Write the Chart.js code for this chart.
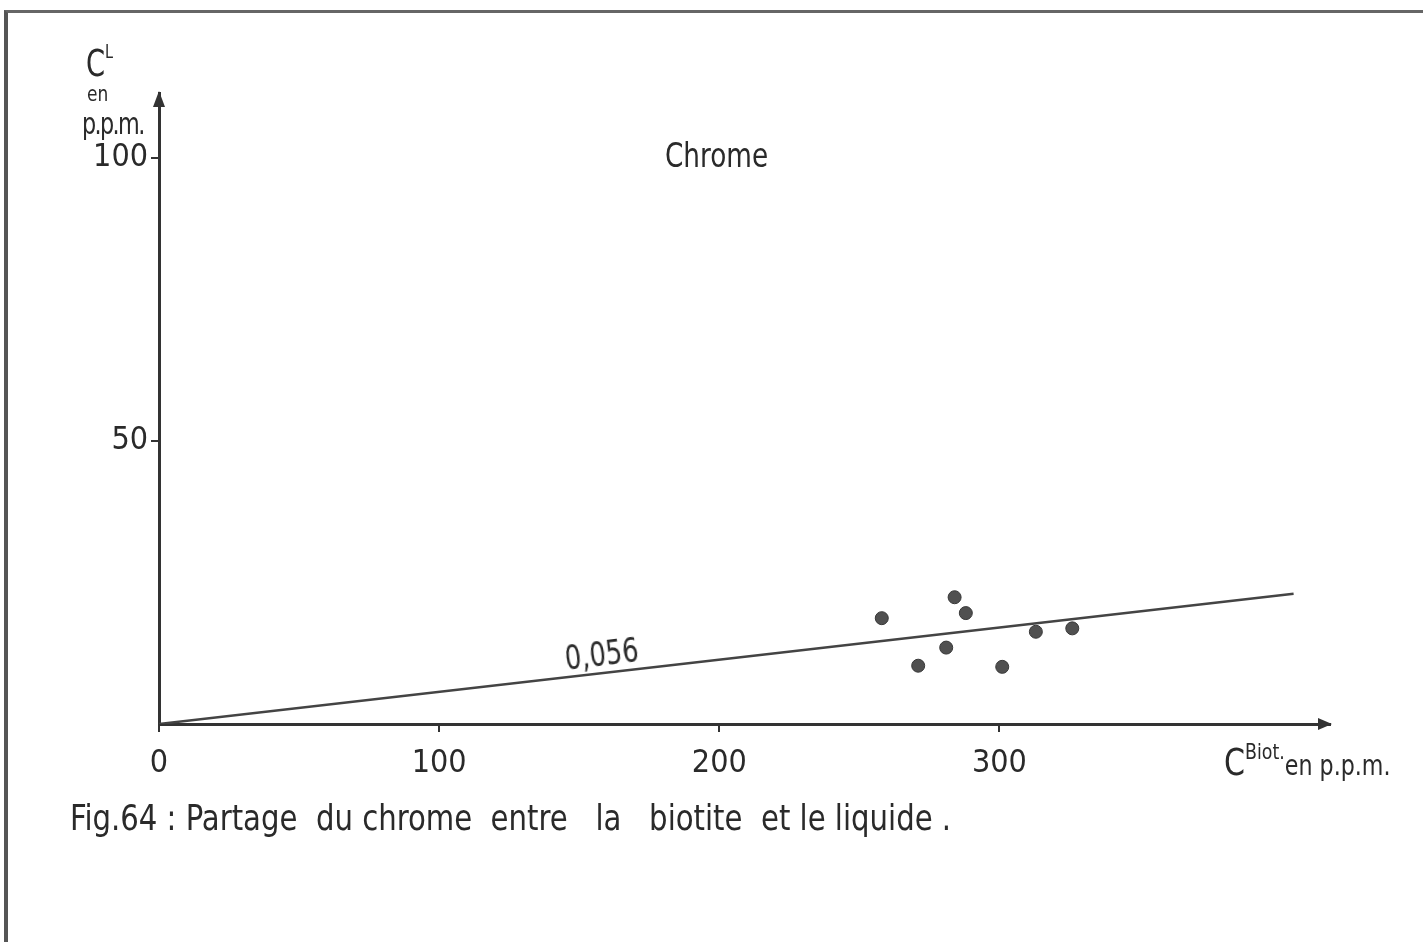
<!DOCTYPE html>
<html>
<head>
<meta charset="utf-8">
<script src="https://cdn.jsdelivr.net/npm/chart.js@4/dist/chart.umd.min.js"></script>
<style>
  body { margin: 0; background: #fff; }
  #wrap { position: relative; width: 1423px; height: 942px; overflow: hidden; font-family: "DejaVu Sans Condensed", "Liberation Sans Narrow", sans-serif; color: #2a2a2a; }
  #frame { position: absolute; left: 4px; top: 10px; width: 1430px; height: 940px; border-left: 4px solid #555; border-top: 3px solid #666; }
  canvas { position: absolute; left: 0; top: 0; }
  .txt { position: absolute; white-space: pre; line-height: 1; transform-origin: 0 100%; }
  sup { vertical-align: 0; position: relative; }
</style>
</head>
<body>
<div id="wrap">
  <div id="frame"></div>
  <canvas id="mychart" width="1423" height="942"></canvas>
  <div class="txt" style="left:86px;top:44px;font-size:38px;transform:scaleX(0.8);">C<sup style="font-size:20px;top:-18px;">L</sup></div>
  <div class="txt" style="left:87px;top:84px;font-size:21px;transform:scaleX(0.9);">en</div>
  <div class="txt" style="left:82px;top:108px;font-size:31px;letter-spacing:-2px;transform:scaleX(0.8);">p.p.m.</div>
  <div class="txt" style="left:665px;top:138px;font-size:34px;transform:scaleX(0.86);">Chrome</div>
  <div class="txt" style="left:567px;top:642px;font-size:33px;transform:rotate(-7deg) scaleX(0.87);">0,056</div>
  <div class="txt" style="left:1224px;top:743px;font-size:38px;transform:scaleX(0.88);">C<sup style="font-size:22px;top:-16px;">Biot.</sup><span style="font-size:28px;">en p.p.m.</span></div>
  <div class="txt" style="left:70px;top:800px;font-size:36px;transform:scaleX(0.9);">Fig.64 : Partage  du chrome  entre   la   biotite  et le liquide .</div>
</div>
<script>
// valeurs
var biotX = [258, 284, 288, 281, 271, 301, 313, 326];
var liqY = [18.7, 22.4, 19.6, 13.5, 10.3, 10.1, 16.3, 16.9];
var fitX = [0, 405];
var fitY = [0, 23];
var xTicks = [0, 100, 200, 300];
var yTicks = [50, 100];

var pts = [];
for (var i = 0; i < biotX.length; i++) {
  pts.push({x: biotX[i], y: liqY[i]});
}
var fitPts = [];
for (var i = 0; i < fitX.length; i++) {
  fitPts.push({x: fitX[i], y: fitY[i]});
}

var arrows = {
  id: 'arrows',
  afterDraw: function(chart) {
    var c = chart.ctx, a = chart.chartArea;
    c.save();
    c.fillStyle = '#333';
    // fleche x
    c.beginPath();
    c.moveTo(a.right + 2, a.bottom);
    c.lineTo(a.right - 12, a.bottom - 6);
    c.lineTo(a.right - 12, a.bottom + 6);
    c.closePath();
    c.fill();
    // fleche y
    c.beginPath();
    c.moveTo(a.left, a.top - 2);
    c.lineTo(a.left - 6, a.top + 14);
    c.lineTo(a.left + 6, a.top + 14);
    c.closePath();
    c.fill();
    c.restore();
  }
};

var tickFont = {family: '"DejaVu Sans Condensed", "Liberation Sans Narrow", sans-serif', size: 32};

var ctx = document.getElementById("mychart");
var myChart = new Chart(ctx, {
  type: 'scatter',
  data: {
    datasets: [
      {
        type: 'line',
        data: fitPts,
        borderColor: '#444',
        borderWidth: 2.5,
        pointRadius: 0,
        fill: false
      },
      {
        data: pts,
        pointRadius: 6.5,
        backgroundColor: '#505050',
        borderColor: '#383838',
        borderWidth: 1
      }
    ]
  },
  options: {
    responsive: false,
    animation: false,
    devicePixelRatio: 1,
    layout: { padding: { top: 93, right: 93, left: 0, bottom: 0 } },
    plugins: { legend: { display: false }, tooltip: { enabled: false } },
    scales: {
      x: {
        type: 'linear',
        min: 0,
        max: 418,
        afterBuildTicks: function(s) { s.ticks = xTicks.map(function(v) { return {value: v}; }); },
        afterFit: function(s) { s.height = 218; },
        ticks: { color: '#2a2a2a', font: tickFont, padding: 12, maxRotation: 0 },
        grid: { drawOnChartArea: false, drawTicks: true, tickLength: 8, color: '#333', lineWidth: 2 },
        border: { display: true, color: '#333', width: 3 }
      },
      y: {
        type: 'linear',
        min: 0,
        max: 111.5,
        afterBuildTicks: function(s) { s.ticks = yTicks.map(function(v) { return {value: v}; }); },
        afterFit: function(s) { s.width = 159; },
        ticks: { color: '#2a2a2a', font: tickFont, padding: 3 },
        grid: { drawOnChartArea: false, drawTicks: true, tickLength: 8, color: '#333', lineWidth: 2 },
        border: { display: true, color: '#333', width: 3 }
      }
    }
  },
  plugins: [arrows]
});
</script>
</body>
</html>
